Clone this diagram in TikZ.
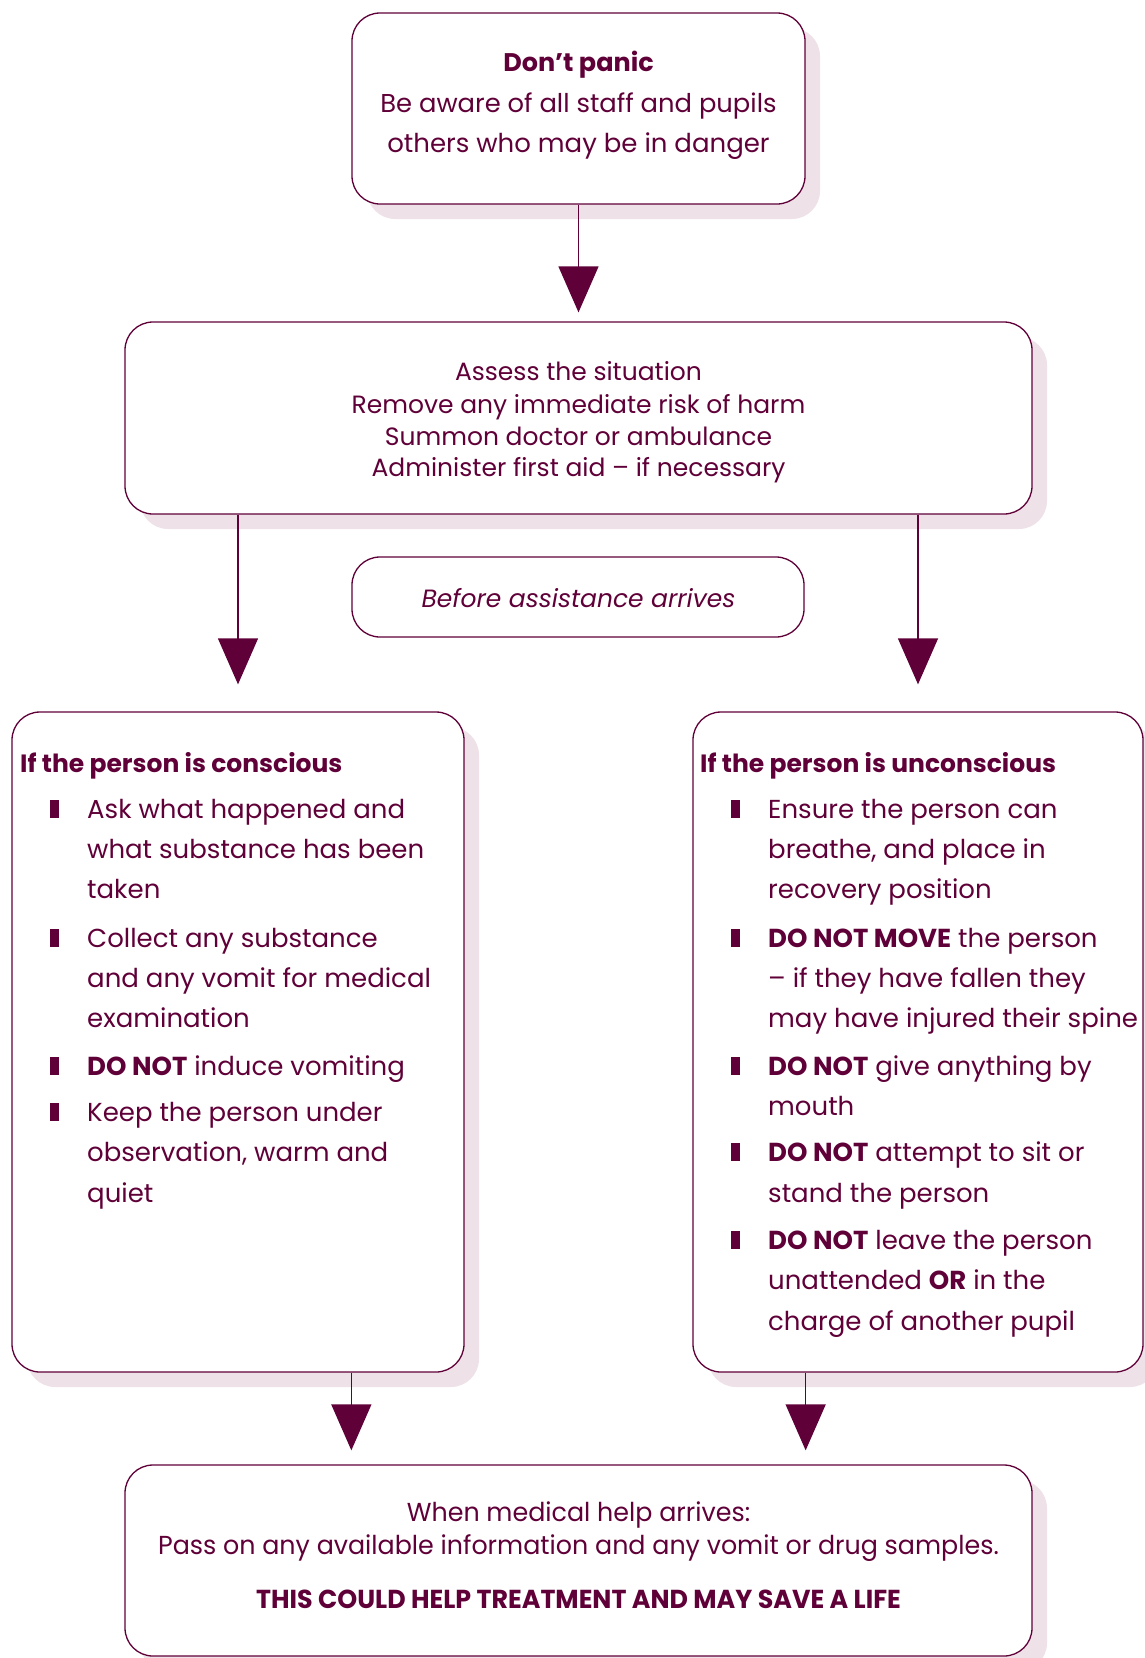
\documentclass[tikz,border=0pt]{standalone}
\usepackage{fontspec}
\setmainfont{Poppins}
\newfontfamily\condfont[FakeStretch=0.975]{Poppins}
\usetikzlibrary{arrows.meta,shadows}
\definecolor{plum}{RGB}{96,0,56}
\definecolor{shade}{RGB}{238,226,232}
\begin{document}
\begin{tikzpicture}[x=1pt,y=-1pt,
  box/.style={draw=plum, line width=1.3pt, rounded corners=28pt, fill=white, inner sep=0pt, rectangle},
  shd/.style={drop shadow={shadow xshift=15pt, shadow yshift=-15pt, fill=shade, opacity=1}},
  arr/.style={draw=plum, line width=1.3pt, -{Triangle[width=40pt,length=46pt]}},
  txt/.style={text=plum, inner sep=0pt, anchor=base west, font=\fontsize{26}{32}\selectfont},
  ttl/.style={txt, font=\bfseries\fontsize{25}{32}\selectfont},
  ctxt/.style={txt, anchor=base, font=\fontsize{25}{32}\selectfont},
  btxt/.style={txt, anchor=base, font=\condfont\fontsize{26}{32}\selectfont},
  bul/.style={fill=plum, minimum width=9pt, minimum height=18pt, inner sep=0pt, anchor=south}]
\useasboundingbox (0,0) rectangle (1144,1658);

% boxes
\node[box, shd, minimum width=453pt, minimum height=191pt] (top) at (578.5,108.5) {};
\node[box, shd, minimum width=907pt, minimum height=192pt] (assess) at (578.5,418) {};
\node[box, minimum width=452pt, minimum height=80pt] (before) at (578,597) {};
\node[box, shd, minimum width=452pt, minimum height=660pt] (left) at (238,1042) {};
\node[box, shd, minimum width=450pt, minimum height=660pt] (right) at (918,1042) {};
\node[box, shd, minimum width=907pt, minimum height=191pt] (bottom) at (578.5,1560.5) {};

% arrows
\draw[arr, shorten >=9pt] (top) -- (assess);
\draw[arr, shorten >=27pt] (assess.south -| left.north) -- (left.north);
\draw[arr, shorten >=27pt] (assess.south -| right.north) -- (right.north);
\draw[arr, shorten >=14pt] (left.south -| top.west) -- (bottom.north -| top.west);
\draw[arr, shorten >=14pt] (right.south -| top.east) -- (bottom.north -| top.east);

% top box text
\node[ctxt, font=\bfseries\fontsize{25.5}{32}\selectfont] (t1) at (578.5,71) {Don’t panic};
\node[ctxt, font=\fontsize{25.8}{32}\selectfont] (t2) at (578.5,112) {Be aware of all staff and pupils};
\node[ctxt, font=\fontsize{26}{32}\selectfont] (t3) at (578.5,152) {others who may be in danger};

% assess text
\node[ctxt] (a1) at (578.5,380) {Assess the situation};
\node[ctxt] (a2) at (578.5,413) {Remove any immediate risk of harm};
\node[ctxt] (a3) at (578.5,445) {Summon doctor or ambulance};
\node[ctxt] (a4) at (578.5,476) {Administer first aid – if necessary};

% before
\node[ctxt, font=\itshape\fontsize{25}{32}\selectfont] (b1) at (578.5,607) {Before assistance arrives};

% left box
\node[ttl] (lt) at (20,772) {If the person is conscious};
\node[bul] (lb1) at (54,818) {};
\node[txt] (l1a) at (87,818) {Ask what happened and};
\node[txt] (l1b) at (87,858) {what substance has been};
\node[txt] (l1c) at (87,898) {taken};
\node[bul] (lb2) at (54,947) {};
\node[txt] (l2a) at (87,947) {Collect any substance};
\node[txt] (l2b) at (87,987) {and any vomit for medical};
\node[txt] (l2c) at (87,1027) {examination};
\node[bul] (lb3) at (54,1075) {};
\node[txt] (l3a) at (87,1075) {\textbf{DO NOT} induce vomiting};
\node[bul] (lb4) at (54,1121) {};
\node[txt] (l4a) at (87,1121) {Keep the person under};
\node[txt] (l4b) at (87,1161) {observation, warm and};
\node[txt] (l4c) at (87,1202) {quiet};

% right box
\node[ttl] (rt) at (700,772) {If the person is unconscious};
\node[bul] (rb1) at (735,818) {};
\node[txt] (r1a) at (768,818) {Ensure the person can};
\node[txt] (r1b) at (768,858) {breathe, and place in};
\node[txt] (r1c) at (768,898) {recovery position};
\node[bul] (rb2) at (735,947) {};
\node[txt] (r2a) at (768,947) {\textbf{DO NOT MOVE} the person};
\node[txt] (r2b) at (768,987) {– if they have fallen they};
\node[txt] (r2c) at (768,1027) {may have injured their spine};
\node[bul] (rb3) at (735,1075) {};
\node[txt] (r3a) at (768,1075) {\textbf{DO NOT} give anything by};
\node[txt] (r3b) at (768,1115) {mouth};
\node[bul] (rb4) at (735,1161) {};
\node[txt] (r4a) at (768,1161) {\textbf{DO NOT} attempt to sit or};
\node[txt] (r4b) at (768,1202) {stand the person};
\node[bul] (rb5) at (735,1249) {};
\node[txt] (r5a) at (768,1249) {\textbf{DO NOT} leave the person};
\node[txt] (r5b) at (768,1289) {unattended \textbf{OR} in the};
\node[txt] (r5c) at (768,1330) {charge of another pupil};

% bottom text
\node[btxt] (m1) at (578.5,1521) {When medical help arrives:};
\node[btxt] (m2) at (578.5,1554) {Pass on any available information and any vomit or drug samples.};
\node[btxt, font=\condfont\bfseries\fontsize{26}{32}\selectfont] (m3) at (578.5,1608) {THIS COULD HELP TREATMENT AND MAY SAVE A LIFE};
\end{tikzpicture}
\end{document}
